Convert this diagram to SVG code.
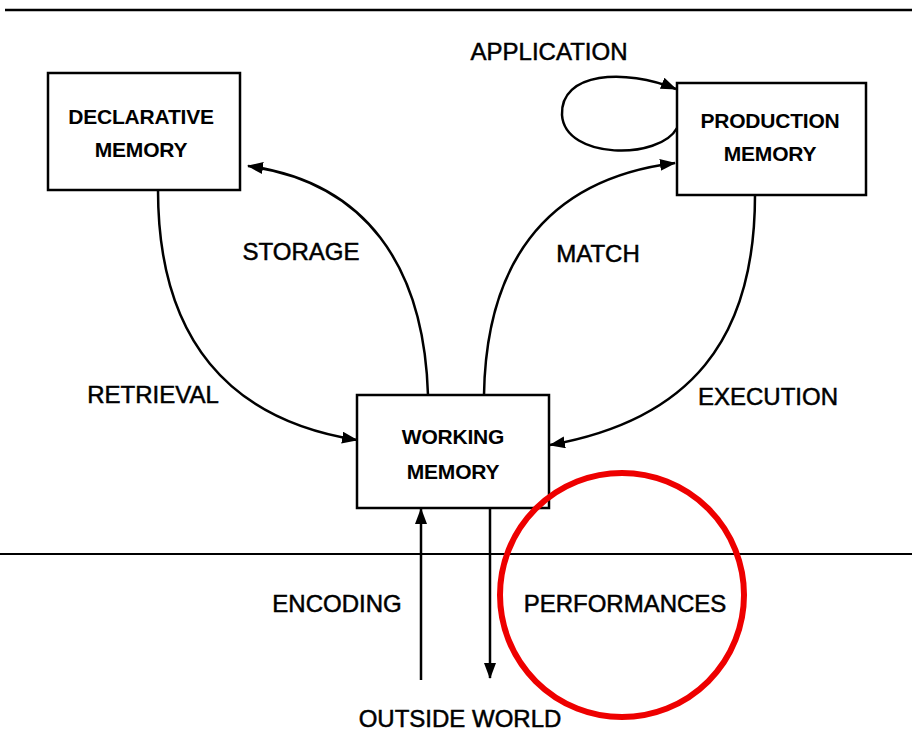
<svg xmlns="http://www.w3.org/2000/svg" width="912" height="732" viewBox="0 0 912 732">
<style>
.box{fill:#fff;stroke:#000;stroke-width:2.5}
.line{fill:none;stroke:#000;stroke-width:2.5}
.lbl{font-family:"Liberation Sans",Arial,sans-serif;font-size:24px;fill:#000;text-anchor:middle;stroke:#000;stroke-width:0.5}
.nt{font-family:"Liberation Sans",Arial,sans-serif;font-size:21px;font-weight:bold;fill:#000;text-anchor:middle;letter-spacing:-0.2px}
</style>
<defs>
<marker id="ah" viewBox="0 0 16 12" refX="15" refY="6" markerWidth="16" markerHeight="12" markerUnits="userSpaceOnUse" orient="auto">
<path d="M0,0 L16,6 L0,12 Z" fill="#000"/>
</marker>
</defs>
<rect width="912" height="732" fill="#fff"/>
<line x1="5" y1="10" x2="912" y2="10" stroke="#000" stroke-width="2.5"/>
<line x1="0" y1="554" x2="912" y2="554" stroke="#000" stroke-width="2"/>
<g id="declarative">
<rect class="box" x="48" y="73" width="192" height="117"/>
<text class="nt" x="141" y="124">DECLARATIVE</text>
<text class="nt" x="141" y="157">MEMORY</text>
</g>
<g id="production">
<rect class="box" x="677" y="83" width="189" height="112"/>
<text class="nt" x="770" y="128">PRODUCTION</text>
<text class="nt" x="770" y="161">MEMORY</text>
</g>
<g id="working">
<rect class="box" x="357" y="395" width="192" height="113"/>
<text class="nt" x="453" y="444">WORKING</text>
<text class="nt" x="453" y="479">MEMORY</text>
</g>
<g id="connectors">
<path class="line" d="M428,395 C424,265 365,182 248,166" marker-end="url(#ah)"/>
<path class="line" d="M484,395 C486,270 540,180 675,163" marker-end="url(#ah)"/>
<path class="line" d="M158,190 C158,340 230,420 357,440" marker-end="url(#ah)"/>
<path class="line" d="M755,195 C755,340 690,420 550,445" marker-end="url(#ah)"/>
<path class="line" d="M677,128 C660,160 565,160 562,115 C560,72 625,68 676,89" marker-end="url(#ah)"/>
<line class="line" x1="421" y1="680" x2="421" y2="509" marker-end="url(#ah)"/>
<line class="line" x1="490" y1="508" x2="490" y2="678" marker-end="url(#ah)"/>
</g>
<g id="labels">
<text class="lbl" x="549" y="60">APPLICATION</text>
<text class="lbl" x="301" y="260">STORAGE</text>
<text class="lbl" x="598" y="262">MATCH</text>
<text class="lbl" x="153" y="403">RETRIEVAL</text>
<text class="lbl" x="768" y="405">EXECUTION</text>
<text class="lbl" x="337" y="612">ENCODING</text>
<text class="lbl" x="625" y="612">PERFORMANCES</text>
<text class="lbl" x="460" y="727">OUTSIDE WORLD</text>
</g>
<circle id="highlight" cx="622" cy="595" r="122" fill="none" stroke="#ee0000" stroke-width="6"/>
</svg>
